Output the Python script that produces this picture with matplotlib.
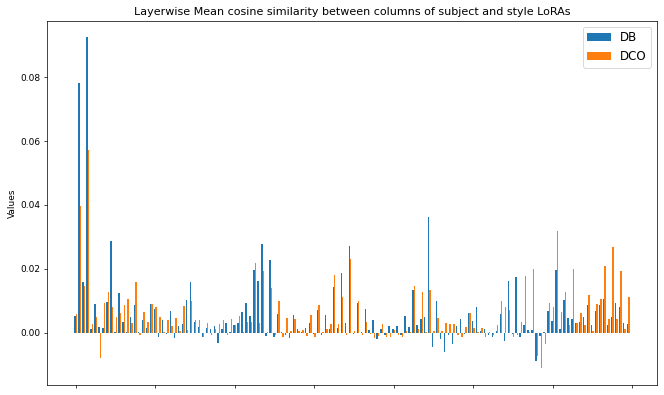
import matplotlib

matplotlib.use("Agg")
import matplotlib.pyplot as plt
import numpy as np

# mean cosine similarity per layer
db_values = [
    0.0052, 0.0783, 0.0159, 0.0925, 0.0010, 0.0089, 0.0018, 0.0016, 0.0097, 0.0288,
    0.0003, 0.0123, 0.0034, 0.0001, 0.0050, 0.0088, 0.0003, 0.0040, 0.0015, 0.0089,
    0.0073, -0.0015, 0.0040, -0.0005, 0.0068, -0.0018, 0.0022, 0.0026, 0.0102, 0.0159,
    0.0034, 0.0019, -0.0013, 0.0014, 0.0010, 0.0021, -0.0033, 0.0010, 0.0029, 0.0001,
    0.0024, 0.0029, 0.0065, 0.0092, 0.0052, 0.0195, 0.0161, 0.0279, -0.0009, 0.0228,
    -0.0013, 0.0057, 0.0001, -0.0008, -0.0017, 0.0056, 0.0010, 0.0002, 0.0016, 0.0031,
    -0.0004, 0.0071, -0.0006, 0.0055, 0.0010, 0.0144, 0.0015, 0.0187, 0.0029, 0.0272,
    -0.0004, 0.0094, 0.0003, 0.0073, 0.0008, 0.0040, -0.0021, 0.0011, -0.0006, 0.0021,
    0.0011, 0.0022, -0.0006, 0.0051, 0.0019, 0.0134, 0.0024, 0.0044, 0.0050, 0.0361,
    -0.0044, 0.0099, -0.0021, -0.0059, -0.0006, -0.0036, 0.0022, 0.0043, -0.0003, 0.0063,
    0.0038, 0.0080, 0.0005, 0.0010, -0.0007, -0.0013, 0.0005, 0.0060, -0.0027, 0.0162,
    -0.0004, 0.0173, -0.0015, 0.0024, 0.0007, 0.0007, -0.0088, -0.0011, 0.0001, 0.0068,
    0.0035, 0.0196, 0.0010, 0.0102, 0.0046, 0.0042, 0.0030, 0.0033, 0.0048, 0.0087,
    0.0023, 0.0068, 0.0088, 0.0105, 0.0023, 0.0048, 0.0092, 0.0079, 0.0031, 0.0027,
]
dco_values = [
    0.0058, 0.0397, 0.0146, 0.0571, 0.0027, 0.0048, -0.0078, 0.0094, 0.0127, 0.0081,
    0.0048, 0.0063, 0.0088, 0.0107, 0.0031, 0.0160, -0.0006, 0.0065, 0.0034, 0.0090,
    0.0079, 0.0050, 0.0001, 0.0040, 0.0021, 0.0045, 0.0005, 0.0084, 0.0008, 0.0099,
    0.0040, 0.0040, -0.0012, 0.0029, -0.0007, 0.0010, 0.0026, 0.0040, -0.0008, 0.0043,
    0.0024, 0.0052, 0.0003, 0.0033, 0.0033, 0.0219, 0.0029, 0.0192, 0.0001, 0.0140,
    -0.0006, 0.0099, -0.0013, 0.0045, 0.0004, 0.0042, 0.0005, 0.0008, -0.0010, 0.0055,
    -0.0015, 0.0087, 0.0001, 0.0010, 0.0027, 0.0180, 0.0026, 0.0112, -0.0006, 0.0231,
    0.0004, 0.0099, -0.0008, 0.0034, -0.0004, -0.0017, -0.0010, 0.0027, -0.0015, -0.0015,
    0.0008, -0.0008, -0.0013, 0.0006, 0.0001, 0.0146, 0.0011, 0.0127, 0.0001, 0.0135,
    0.0005, 0.0047, 0.0004, 0.0030, 0.0026, 0.0027, -0.0008, -0.0013, 0.0019, 0.0062,
    0.0015, 0.0001, 0.0016, -0.0015, 0.0003, -0.0006, 0.0024, 0.0099, 0.0079, 0.0071,
    -0.0015, -0.0008, 0.0033, 0.0177, 0.0003, 0.0198, -0.0072, -0.0112, -0.0035, 0.0093,
    0.0081, 0.0318, 0.0065, 0.0126, 0.0025, 0.0200, 0.0030, 0.0063, 0.0023, 0.0118,
    0.0005, 0.0090, 0.0105, 0.0209, 0.0042, 0.0267, 0.0044, 0.0194, 0.0010, 0.0111,
]
series_labels = ["DB", "DCO"]
x_ticks = [0, 20, 40, 60, 80, 100, 120, 140]
x_tick_labels = [""] * len(x_ticks)

width = 0.35
x = np.arange(len(db_values))

fig = plt.figure(figsize=(664 / 65, 395 / 65), dpi=65)
ax = fig.add_axes([0.0703, 0.0253, 0.9196, 0.9223])

ax.bar(x - width / 2, db_values, width, label=series_labels[0])
ax.bar(x + width / 2, dco_values, width, label=series_labels[1])

ax.set_title("Layerwise Mean cosine similarity between columns of subject and style LoRAs",
             fontsize=12.3)
ax.set_ylabel("Values")
ax.set_xticks(x_ticks)
ax.set_xticklabels(x_tick_labels)
ax.legend(fontsize=13)

fig.savefig("out.png", dpi=65)
